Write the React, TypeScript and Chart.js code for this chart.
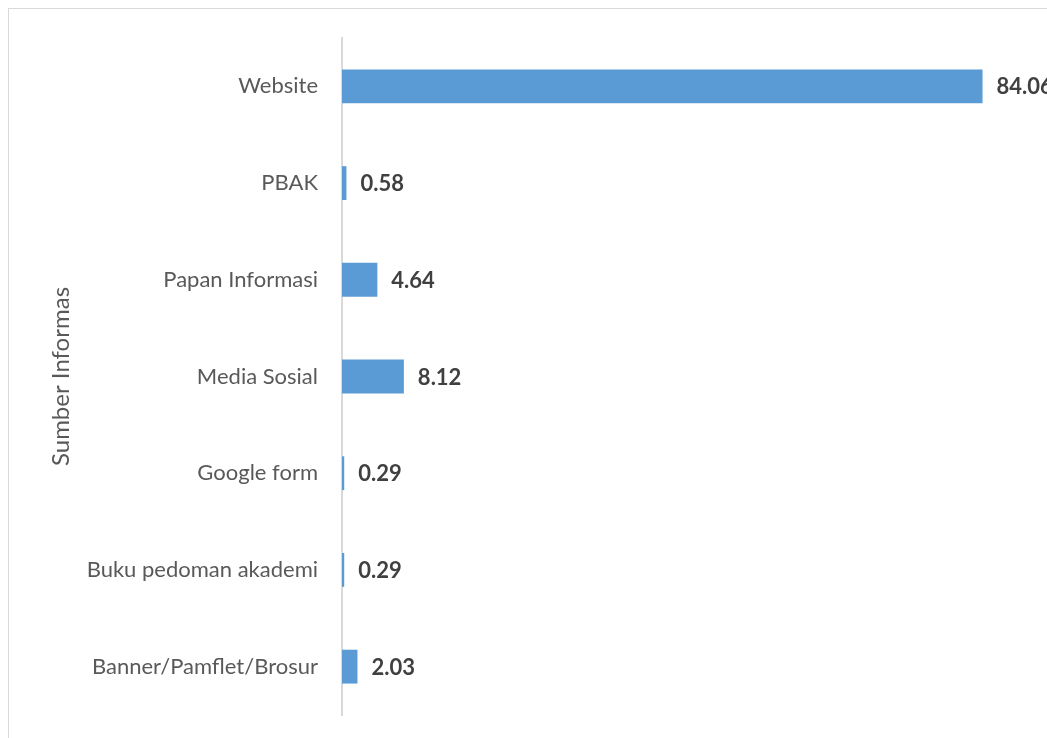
import React, { useEffect, useRef } from "react";
import { Chart, registerables } from "chart.js";

Chart.register(...registerables);

const categories = [
  "Website",
  "PBAK",
  "Papan Informasi",
  "Media Sosial",
  "Google form",
  "Buku pedoman akademi",
  "Banner/Pamflet/Brosur",
];
const values = [84.06, 0.58, 4.64, 8.12, 0.29, 0.29, 2.03];
const axisTitle = "Sumber Informas";

const FONT = "Lato, 'Open Sans', sans-serif";

const valueLabels = {
  id: "valueLabels",
  afterDatasetsDraw(chart: any) {
    const ctx = chart.ctx;
    const meta = chart.getDatasetMeta(0);
    ctx.save();
    ctx.font = `bold 22px ${FONT}`;
    ctx.fillStyle = "#404040";
    ctx.textAlign = "left";
    ctx.textBaseline = "middle";
    meta.data.forEach((bar: any, i: number) => {
      const v = chart.data.datasets[0].data[i];
      ctx.fillText(v.toFixed(2), bar.x + 14, bar.y + 1);
    });
    ctx.restore();
  },
};

export default function App() {
  const ref = useRef<HTMLCanvasElement>(null);
  useEffect(() => {
    if (!ref.current) return;
    const chart = new Chart(ref.current, {
      type: "bar",
      data: {
        labels: categories,
        datasets: [
          {
            data: values,
            backgroundColor: "#5B9BD5",
            borderWidth: 0,
            barPercentage: 0.35,
            categoryPercentage: 1,
          },
        ],
      },
      options: {
        indexAxis: "y",
        responsive: false,
        animation: false,
        layout: { padding: { left: 0, top: 29, bottom: 14, right: 25 } },
        plugins: {
          legend: { display: false },
          tooltip: { enabled: false },
        },
        scales: {
          x: { display: false, min: 0, max: 100 },
          y: {
            afterFit: (scale: any) => {
              scale.width = 333;
              scale.paddingTop = 0;
              scale.paddingBottom = 0;
            },
            grid: { display: false, drawTicks: false },
            border: { display: true, color: "#d9d9d9", width: 2 },
            ticks: {
              padding: 24,
              color: "#595959",
              font: { family: FONT, size: 22 },
            },
            title: {
              display: true,
              text: axisTitle,
              color: "#595959",
              font: { family: FONT, size: 24 },
              padding: { top: 38, bottom: 0 },
            },
          },
        },
      },
      plugins: [valueLabels],
    });
    return () => chart.destroy();
  }, []);
  return (
    <div
      style={{
        position: "fixed",
        left: 8,
        top: 8,
        width: 1039,
        height: 730,
        overflow: "hidden",
      }}
    >
      <div
        style={{
          position: "relative",
          width: 1130,
          height: 760,
          border: "1px solid #d9d9d9",
          boxSizing: "border-box",
        }}
      >
        <canvas
          ref={ref}
          width={1120}
          height={720}
          style={{ position: "absolute", left: 0, top: 0, width: 1120, height: 720 }}
        />
      </div>
    </div>
  );
}
